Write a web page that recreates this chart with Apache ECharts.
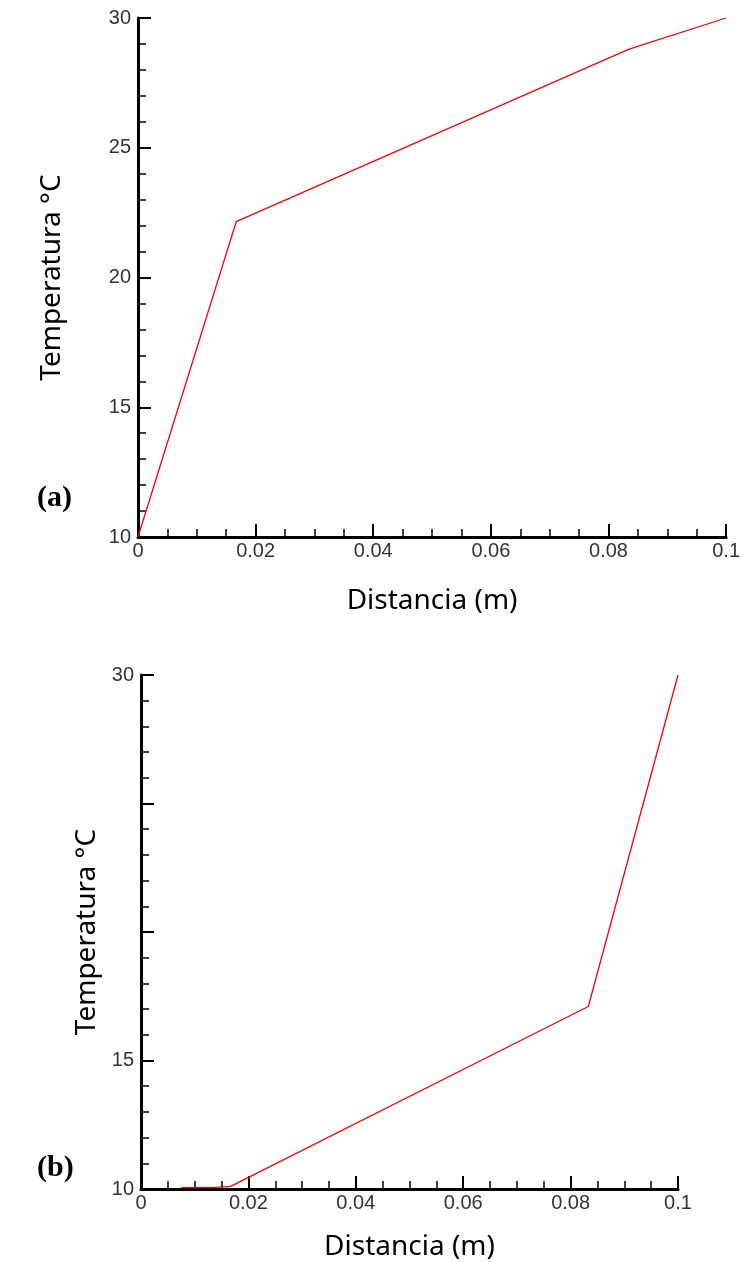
<!DOCTYPE html>
<html>
<head>
<meta charset="utf-8">
<script src="https://cdn.jsdelivr.net/npm/echarts@6/dist/echarts.min.js"></script>
<style>
  html, body { margin: 0; padding: 0; background: #fff; }
  #chart { width: 743px; height: 1262px; }
</style>
</head>
<body>
<div id="chart"></div>
<script>
// (a) perfil de temperatura
const distA = [0, 0.0167, 0.0835, 0.1]
const tempA = [10, 22.15, 28.8, 30]

// (b) perfil de temperatura
const distB = [0.0075, 0.0133, 0.0167, 0.0833, 0.1]
const tempB = [10.05, 10.05, 10.1, 17.1, 30]

// etiquetas del eje y que no se ven en (b)
const hiddenLabelsB = [20, 25]

const tickFont = 'Liberation Sans, Arial, sans-serif'
const nameFont = 'Noto Sans, Open Sans, sans-serif'

const toPairs = (xs, ys) => xs.map((x, i) => [x, ys[i]])

const xAxisBase = (gridIndex, nameGap) => ({
  type: 'value',
  gridIndex,
  min: 0,
  max: 0.1,
  interval: 0.02,
  name: 'Distancia (m)',
  nameLocation: 'middle',
  nameGap,
  nameTextStyle: { fontFamily: nameFont, fontSize: 28, color: '#000' },
  axisLine: { show: true, onZero: false, lineStyle: { color: '#000', width: 3 } },
  axisTick: { show: true, inside: true, length: 13, lineStyle: { color: '#000', width: 2 } },
  minorTick: { show: true, splitNumber: 4, length: 8, lineStyle: { color: '#000', width: 1.5 } },
  axisLabel: { fontFamily: tickFont, fontSize: 20, color: '#333', margin: 4 },
  splitLine: { show: false }
})

const yAxisBase = (gridIndex, nameGap, hidden) => ({
  type: 'value',
  gridIndex,
  min: 10,
  max: 30,
  interval: 5,
  name: 'Temperatura °C',
  nameLocation: 'middle',
  nameGap,
  nameTextStyle: { fontFamily: nameFont, fontSize: 28, color: '#000' },
  axisLine: { show: true, onZero: false, lineStyle: { color: '#000', width: 3 } },
  axisTick: { show: true, inside: true, length: 13, lineStyle: { color: '#000', width: 2 } },
  minorTick: { show: true, splitNumber: 5, length: 8, lineStyle: { color: '#000', width: 1.5 } },
  axisLabel: {
    fontFamily: tickFont, fontSize: 20, color: '#333', margin: 7,
    formatter: (v) => (hidden.includes(v) ? '' : String(v))
  },
  splitLine: { show: false }
})

const chart = echarts.init(document.getElementById('chart'), null, { renderer: 'canvas' })

chart.setOption({
  backgroundColor: '#fff',
  animation: false,
  grid: [
    { left: 138, top: 18, width: 592, height: 519 },
    { left: 141, top: 675, width: 537, height: 514 }
  ],
  xAxis: [xAxisBase(0, 50), xAxisBase(1, 44)],
  yAxis: [yAxisBase(0, 72, []), yAxisBase(1, 38, hiddenLabelsB)],
  graphic: [
    {
      type: 'text', left: 37, top: 483,
      style: { text: '(a)', font: 'bold 30px "Liberation Serif", "Times New Roman", serif', fill: '#000' }
    },
    {
      type: 'text', left: 37, top: 1153,
      style: { text: '(b)', font: 'bold 30px "Liberation Serif", "Times New Roman", serif', fill: '#000' }
    }
  ],
  series: [
    {
      type: 'line',
      xAxisIndex: 0,
      yAxisIndex: 0,
      data: toPairs(distA, tempA),
      symbol: 'none',
      lineStyle: { color: '#ff0000', width: 1.3 }
    },
    {
      type: 'line',
      xAxisIndex: 1,
      yAxisIndex: 1,
      data: toPairs(distB, tempB),
      symbol: 'none',
      lineStyle: { color: '#ff0000', width: 1.3 }
    }
  ]
})
</script>
</body>
</html>
